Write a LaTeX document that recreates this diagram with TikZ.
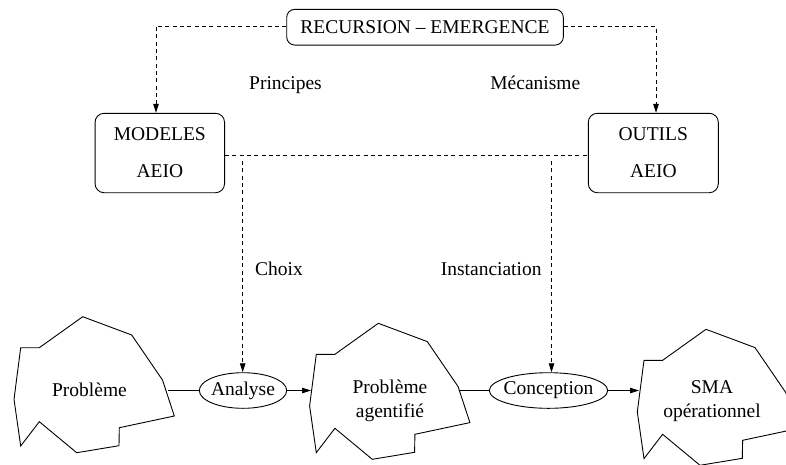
\documentclass[tikz,border=0pt]{standalone}
\usepackage{fontspec}
\setmainfont{Liberation Serif}
\newfontfamily\timesfam{Liberation Serif}
\usetikzlibrary{arrows.meta,shapes.geometric}
\begin{document}
\begin{tikzpicture}[x=1pt,y=-1pt,
  every node/.style={font=\timesfam\fontsize{19.5pt}{24pt}\selectfont, inner sep=0pt},
  roundbox/.style={draw, line width=0.9pt, rounded corners=9pt},
  oval/.style={draw, ellipse, line width=0.9pt, minimum height=35.6pt},
  link/.style={line width=0.9pt},
  dashlink/.style={line width=0.9pt, dash pattern=on 4pt off 3.3pt},
  tip/.style={-{Triangle[length=9pt,width=5.5pt]}},
  blob/.pic={\draw[line width=0.9pt, line join=miter]
    (82.7,316.7) -- (131.7,335) -- (162.5,380) -- (174.3,416) -- (119.3,427.7)
    -- (119,445.7) -- (76.7,452.7) -- (39.3,421.7) -- (20.7,446) -- (14,399.3)
    -- (20.7,347.7) -- (39.3,347.7) -- cycle;}
]
\useasboundingbox (0,0) rectangle (786,464);

% top level
\node[roundbox, rounded corners=8pt, minimum width=276.6pt, minimum height=35.7pt]
  (rec) at (425,27.2) {RECURSION – EMERGENCE};
\node[roundbox, minimum width=129.5pt, minimum height=79.4pt, align=center]
  (mod) at (159.8,153) {MODELES\\[13pt]AEIO};
\node[roundbox, minimum width=130pt, minimum height=79.4pt, align=center]
  (out) at (653.3,153) {OUTILS\\[13pt]AEIO};

\node[anchor=base] (princ) at (285.5,89.3) {Principes};
\node[anchor=base] (meca) at (535.3,89.3) {Mécanisme};
\node[anchor=base] (choix) at (279,275) {Choix};
\node[anchor=base] (inst) at (491.2,275) {Instanciation};

% bottom chain
\pic at (0,0) {blob};
\pic at (295.6,6.6) {blob};
\pic at (623.3,12.6) {blob};

\node[anchor=base] (pb) at (89.5,396.7) {Problème};
\node[align=center] (pba) at (390,401) {Problème\\agentifié};
\node[align=center] (sma) at (712,401) {SMA\\opérationnel};

\node[oval, minimum width=87.4pt] (ana) at (243,390.5) {\makebox[0pt]{Analyse}};
\node[oval, minimum width=118.4pt] (con) at (548.5,390.5) {\makebox[0pt]{Conception}};

\coordinate (p1e) at (168,390.5);
\coordinate (p2w) at (311,390.5);
\coordinate (p2e) at (460,390.5);
\coordinate (p3w) at (639,390.5);
\coordinate (chx) at (242.7,161);
\coordinate (ins) at (551.5,161);

% connectors
\draw[dashlink,tip] ([yshift=1.2pt]rec.west) -| ([xshift=-3.8pt]mod.north);
\draw[dashlink,tip] ([yshift=1.2pt]rec.east) -| ([xshift=2.7pt]out.north);
\draw[dashlink] ([yshift=-2.7pt]mod.east) -- ([yshift=-2.7pt]out.west);
\draw[dashlink,tip] (chx) -- (chx |- ana.north);
\draw[dashlink,tip] (ins) -- (ins |- con.north);

\draw[link] (p1e) -- (ana.west);
\draw[link,tip] (ana.east) -- (p2w);
\draw[link] (p2e) -- (con.west);
\draw[link,tip] (con.east) -- (p3w);
\end{tikzpicture}
\end{document}
